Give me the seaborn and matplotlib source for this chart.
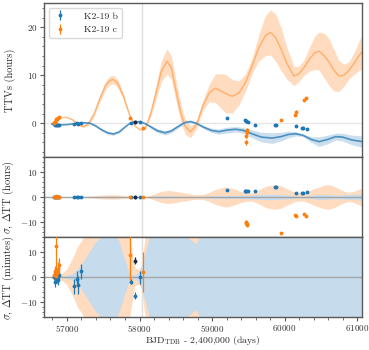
import numpy as np
import pandas as pd
import matplotlib
matplotlib.use("Agg")
import matplotlib.pyplot as plt
import seaborn as sns
from matplotlib.ticker import AutoMinorLocator, MultipleLocator

# model curves for K2-19 b (hours): time, TTV, 1-sigma width
t_mod_b = [56790, 56850, 56920, 57000, 57080, 57150, 57230, 57320, 57400, 57480,
           57560, 57640, 57720, 57800, 57871, 57940, 58010, 58080, 58160, 58250,
           58355, 58440, 58530, 58620, 58700, 58780, 58880, 58990, 59093, 59200,
           59324, 59430, 59550, 59680, 59830, 59950, 60050, 60154, 60250, 60370,
           60476, 60590, 60705, 60800, 60930, 61076]
ttv_mod_b = [-0.2, -0.3, -0.35, -0.3, -0.15, 0.0, 0.1, 0.0, -0.6, -1.4,
             -2.0, -2.25, -1.8, -0.8, 0.0, 0.3, 0.3, -0.1, -0.8, -1.6,
             -2.0, -1.6, -0.7, 0.1, 0.35, 0.0, -0.8, -1.5, -1.76, -1.45,
             -1.26, -1.5, -2.2, -2.9, -3.1, -2.8, -2.35, -2.2, -2.5, -3.4,
             -3.85, -3.4, -2.8, -2.9, -3.5, -3.85]
sig_mod_b = [0.003, 0.003, 0.005, 0.01, 0.02, 0.05, 0.1, 0.17, 0.23, 0.27,
             0.29, 0.29, 0.24, 0.12, 0.02, 0.01, 0.04, 0.15, 0.3, 0.4,
             0.45, 0.4, 0.33, 0.28, 0.25, 0.22, 0.3, 0.45, 0.55, 0.6,
             0.55, 0.6, 0.8, 1.0, 1.1, 0.9, 0.7, 0.45, 0.26, 0.6,
             1.0, 0.9, 0.7, 0.8, 1.0, 1.2]

# model curves for K2-19 c (hours)
t_mod_c = [56790, 56830, 56880, 56950, 57000, 57080, 57150, 57221, 57290, 57370,
           57450, 57530, 57590, 57640, 57700, 57780, 57860, 57940, 58000, 58033,
           58080, 58150, 58230, 58300, 58379, 58440, 58520, 58580, 58632, 58701,
           58750, 58794, 58870, 58960, 59047, 59150, 59185, 59278, 59370, 59462,
           59554, 59646, 59739, 59808, 59877, 59950, 60030, 60130, 60200, 60264,
           60350, 60420, 60476, 60550, 60610, 60680, 60752, 60820, 60887, 60960,
           61020, 61076]
ttv_mod_c = [0.0, 0.4, 0.9, 1.2, 1.2, 0.7, -0.2, -0.7, -0.2, 1.8,
             5.0, 7.8, 8.9, 9.1, 8.3, 5.5, 1.8, -0.6, -1.3, -1.4,
             -1.0, 1.8, 6.5, 10.8, 12.9, 11.5, 5.5, 1.5, -0.7, -1.8,
             -1.0, 0.0, 3.5, 6.3, 7.3, 6.5, 6.2, 5.6, 6.3, 8.5,
             12.0, 15.8, 18.3, 18.9, 17.8, 15.5, 12.5, 9.8, 10.3, 11.5,
             13.5, 14.7, 15.0, 14.0, 12.8, 11.0, 9.8, 10.0, 11.0, 12.5,
             13.9, 15.0]
sig_mod_c = [0.01, 0.01, 0.01, 0.03, 0.05, 0.12, 0.2, 0.25, 0.35, 0.5,
             0.7, 0.85, 0.9, 0.9, 0.85, 0.6, 0.3, 0.06, 0.05, 0.08,
             0.25, 0.7, 1.5, 2.2, 2.6, 2.5, 2.1, 1.8, 1.6, 1.2,
             1.0, 0.9, 1.0, 1.8, 3.0, 3.8, 4.0, 3.5, 2.5, 1.8,
             1.6, 2.8, 4.2, 4.7, 4.9, 4.5, 3.3, 2.0, 1.6, 1.6,
             2.6, 3.5, 4.0, 4.7, 4.9, 4.3, 3.2, 2.3, 1.8, 2.3,
             3.0, 3.6]

# observed transits, K2-19 b: TTV (hours), residual and error (minutes)
t_b = [56815, 56831, 56847, 56863, 56879, 56895, 57097, 57134, 57156, 57189,
       57880, 57931, 58010, 59209, 59452, 59462, 59472, 59500, 59586, 59867,
       59875, 60154, 60246, 60256, 60315]
ttv_b = [-0.25, -0.35, -0.3, -0.3, -0.35, -0.3, -0.2, -0.05, -0.1, 0.05,
         0.05, 0.25, 0.3, 1.05, 0.6, 0.5, 0.4, 0.3, -0.35, -0.3,
         -0.35, -0.55, -1.0, -1.05, -1.25]
res_b = [0.3, -2.0, 1.3, -0.7, -1.2, 0.8, -3.6, -0.5, -3.0, 2.4,
         -1.7, -7.3, 0.0, 159, 135, 138, 132, 135, 150, 240,
         240, 96, 96, 96, 108]
err_b = [1.5, 2.0, 1.8, 1.5, 2.0, 1.8, 3.0, 3.0, 3.5, 3.0,
         1.0, 1.5, 2.5, 3, 3, 3, 3, 3, 3, 3,
         3, 3, 3, 3, 3]

# observed transits, K2-19 c
t_c = [56818, 56830, 56842, 56854, 56866, 56878, 56890, 57862, 58047,
       59466, 59472, 59478, 59486, 59946, 60150, 60158, 60264, 60300]
ttv_c = [0.0, 0.3, 0.6, 0.8, 0.95, 1.1, 1.2, 1.05, -1.05,
         -4.0, -2.6, -1.8, -1.4, 0.7, 1.7, 2.4, 4.9, 5.2]
res_c = [1.0, 2.5, 0.5, 12.4, 1.7, 3.5, 4.7, 8.9, 2.1,
         -630, -590, -640, -665, -865, -430, -465, -410, -450]
err_c = [1.5, 2.0, 1.5, 13.0, 2.0, 2.5, 3.0, 10.0, 8.0,
         30, 30, 25, 25, 10, 15, 15, 10, 10]

# extra (dark) transit
t_x = [57931]
ttv_x = [0.35]
res_x = [6.6]
err_x = [1.5]

t_ref = 58035

sns.set_style("ticks")
plt.rcParams["font.family"] = "serif"
plt.rcParams["font.serif"] = ["cmr10", "DejaVu Serif"]
plt.rcParams["mathtext.fontset"] = "cm"
plt.rcParams["axes.formatter.use_mathtext"] = True
plt.rcParams["axes.unicode_minus"] = True

blue, orange = "#1f77b4", "#ff7f0e"
blue_band, orange_band = "#c6dbec", "#ffdcc0"
dark = "#1b2a45"

mod_b = pd.DataFrame({"t": t_mod_b, "ttv": ttv_mod_b, "sig": sig_mod_b})
mod_c = pd.DataFrame({"t": t_mod_c, "ttv": ttv_mod_c, "sig": sig_mod_c})
obs_b = pd.DataFrame({"t": t_b, "ttv": ttv_b, "res": res_b, "err": err_b})
obs_c = pd.DataFrame({"t": t_c, "ttv": ttv_c, "res": res_c, "err": err_c})
obs_x = pd.DataFrame({"t": t_x, "ttv": ttv_x, "res": res_x, "err": err_x})

fig = plt.figure(figsize=(3.69, 3.5), dpi=100)
gs = fig.add_gridspec(3, 1, height_ratios=[154, 80.5, 80.5], hspace=0,
                      left=0.119, right=0.98, top=0.991, bottom=0.093)
ax1 = fig.add_subplot(gs[0])
ax2 = fig.add_subplot(gs[1], sharex=ax1)
ax3 = fig.add_subplot(gs[2], sharex=ax1)

eb_kw = dict(fmt=".", ms=3.5, elinewidth=0.9, capsize=0, zorder=4)

# top: TTVs with model
ax1.fill_between(mod_c.t, mod_c.ttv - mod_c.sig, mod_c.ttv + mod_c.sig,
                 color=orange_band, lw=0, zorder=1)
ax1.fill_between(mod_b.t, mod_b.ttv - mod_b.sig, mod_b.ttv + mod_b.sig,
                 color=blue_band, lw=0, alpha=0.9, zorder=1)
sns.lineplot(data=mod_c, x="t", y="ttv", ax=ax1, color=orange, alpha=0.45, lw=1.1, zorder=2)
sns.lineplot(data=mod_b, x="t", y="ttv", ax=ax1, color=blue, alpha=0.75, lw=1.2, zorder=2)
ax1.errorbar(obs_b.t, obs_b.ttv, yerr=obs_b.err / 60, color=blue, label="K2-19 b", **eb_kw)
ax1.errorbar(obs_c.t, obs_c.ttv, yerr=obs_c.err / 60, color=orange, label="K2-19 c", **eb_kw)
ax1.errorbar(obs_x.t, obs_x.ttv, yerr=obs_x.err / 60, color=dark, **eb_kw)
ax1.axhline(0, color="0.9", lw=1, zorder=0)
ax1.set_ylim(-7, 25)
ax1.yaxis.set_major_locator(MultipleLocator(10))
ax1.set_ylabel("TTVs (hours)", fontsize=7.5, labelpad=3)
ax1.legend(loc="upper left", fontsize=7, borderaxespad=0.5, handletextpad=1.6,
           handlelength=1.6, framealpha=1, edgecolor="0.85")

# middle and bottom: residuals and model width
for ax, scale in [(ax2, 1 / 60), (ax3, 1)]:
    fs = 1 if scale == 1 / 60 else 60
    ax.fill_between(mod_c.t, -mod_c.sig * fs, mod_c.sig * fs, color=orange_band, lw=0, zorder=1)
    ax.fill_between(mod_b.t, -mod_b.sig * fs, mod_b.sig * fs, color=blue_band, lw=0, zorder=1.1)
    ax.axhline(0, color="0.65", lw=1, zorder=2.5)
    ax.errorbar(obs_b.t, obs_b.res * scale, yerr=obs_b.err * scale, color=blue, **eb_kw)
    ax.errorbar(obs_c.t, obs_c.res * scale, yerr=obs_c.err * scale, color=orange, **eb_kw)
    ax.errorbar(obs_x.t, obs_x.res * scale, yerr=obs_x.err * scale, color=dark, **eb_kw)
    ax.set_ylim(-16, 16)
    ax.yaxis.set_major_locator(MultipleLocator(10))

ax2.set_ylabel(r"$\sigma$, $\Delta$TT (hours)", fontsize=7.5, labelpad=3)
ax3.set_ylabel(r"$\sigma$, $\Delta$TT (minutes)", fontsize=7.5, labelpad=3)
ax3.set_xlabel(r"BJD$_{\rm TDB}$ - 2,400,000 (days)", fontsize=7, labelpad=0)

for ax in (ax1, ax2, ax3):
    ax.axvline(t_ref, color="0.88", lw=1, zorder=0)
    ax.yaxis.set_minor_locator(AutoMinorLocator())
    ax.tick_params(axis="y", which="major", direction="out", length=3, width=0.8, pad=1.5,
                   labelsize=6.5, colors="0.35", labelcolor="0.2")
    ax.tick_params(axis="y", which="minor", direction="out", length=1.8, width=0.6, colors="0.35")
    for s in ax.spines.values():
        s.set_color("0.35")
        s.set_linewidth(1)

ax3.set_xlim(56682, 61062)
ax3.xaxis.set_major_locator(MultipleLocator(1000))
ax3.xaxis.set_minor_locator(AutoMinorLocator())
ax3.tick_params(axis="x", which="major", direction="out", length=3, width=0.8, pad=1.2,
                labelsize=6.5, colors="0.35", labelcolor="0.2")
ax3.tick_params(axis="x", which="minor", direction="out", length=1.8, width=0.6, colors="0.35")
for ax in (ax1, ax2):
    ax.tick_params(axis="x", which="both", bottom=False, labelbottom=False)
    ax.set_xlabel("")

fig.align_ylabels([ax1, ax2, ax3])
fig.savefig("out.png", dpi=100)
